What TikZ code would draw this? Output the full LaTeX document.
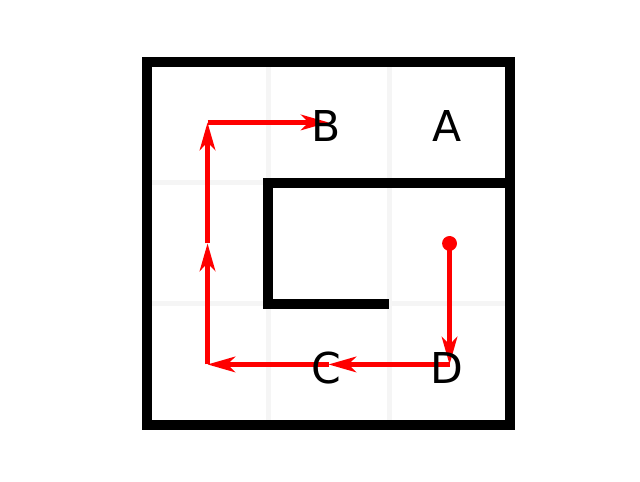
\documentclass[tikz,border=0pt]{standalone}
\usepackage{fontspec}
\setmainfont{DejaVu Sans}
\usetikzlibrary{arrows.meta}

\begin{document}
\begin{tikzpicture}[x=1.2cm, y=1.2cm, >={Stealth[length=7.8pt, width=4.4pt, inset=2.2pt]},
    gridline/.style={line width=1.4pt, black!4},
    wall/.style={line width=2.7pt, black},
    move/.style={->, line width=1.2pt, red},
    cell/.style={font=\fontsize{12}{14}\selectfont, inner sep=0pt, xshift=-0.7pt, yshift=-0.9pt}]
  \useasboundingbox (-1.215,-0.471) rectangle (4.074,3.512);

  % floor grid and walls
  \draw[gridline, step=1.2cm] (0,0) grid (3,3);
  \draw[wall] (0,0) rectangle (3,3);
  \draw[wall] (3,2) -- (1,2) -- (1,1) -- (2,1);

  % path points
  \coordinate (start) at (2.5,1.5);
  \coordinate (cornerlow) at (0.5,0.5);
  \coordinate (midleft) at (0.5,1.5);
  \coordinate (cornerhigh) at (0.5,2.5);
  \coordinate (posA) at (2.5,2.5);
  \coordinate (posB) at (1.5,2.5);
  \coordinate (posC) at (1.5,0.5);
  \coordinate (posD) at (2.5,0.5);

  \fill[red] (start) circle (2.1pt);
  \draw[move] (start) -- (posD);
  \draw[move] (posD) -- (posC);
  \draw[move] (posC) -- (cornerlow);
  \draw[move] (cornerlow) -- (midleft);
  \draw[move] (midleft) -- (cornerhigh);
  \draw[move] (cornerhigh) -- (posB);

  % cell labels
  \node[cell] (A) at (posA) {A};
  \node[cell] (B) at (posB) {B};
  \node[cell] (C) at (posC) {C};
  \node[cell] (D) at (posD) {D};
\end{tikzpicture}
\end{document}
